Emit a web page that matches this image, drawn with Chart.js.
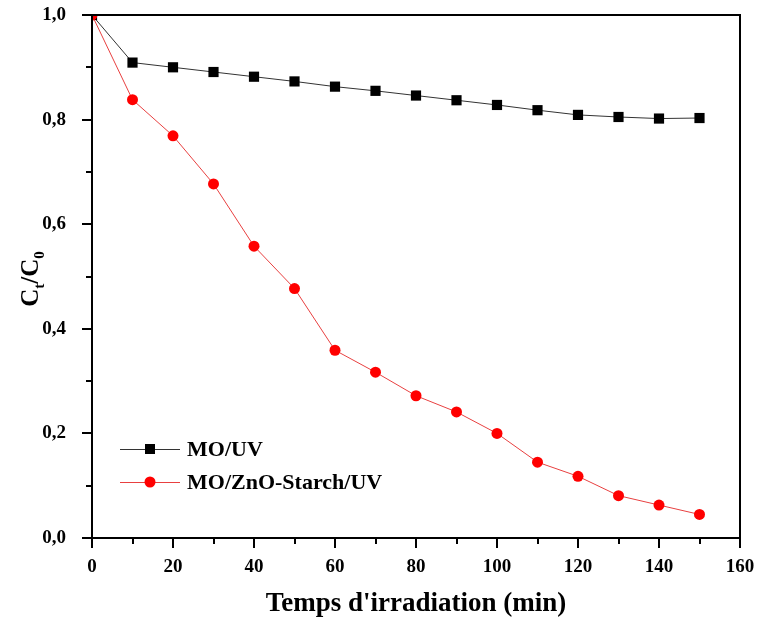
<!DOCTYPE html>
<html>
<head>
<meta charset="utf-8">
<script src="https://cdn.jsdelivr.net/npm/chart.js@4/dist/chart.umd.min.js"></script>
<style>
  html, body { margin: 0; padding: 0; background: #fff; }
  canvas { display: block; }
</style>
</head>
<body>
<canvas id="chart" width="757" height="621"></canvas>
<script>
// ---------- data ----------
const times = [0, 10, 20, 30, 40, 50, 60, 70, 80, 90, 100, 110, 120, 130, 140, 150];

const moUV = [1.0, 0.909, 0.900, 0.891, 0.882, 0.873, 0.863, 0.855, 0.846, 0.837, 0.828, 0.818, 0.809, 0.805, 0.802, 0.803];

const moZnoStarchUV = [1.0, 0.838, 0.769, 0.677, 0.558, 0.477, 0.359, 0.317, 0.272, 0.241, 0.200, 0.145, 0.118, 0.081, 0.063, 0.045];

const seriesNames = ["MO/UV", "MO/ZnO-Starch/UV"];

const xTicks = [0, 20, 40, 60, 80, 100, 120, 140, 160];
const yTicks = [0, 0.2, 0.4, 0.6, 0.8, 1.0];

const xTitle = "Temps d'irradiation (min)";

const FONT = "'Liberation Serif', 'Times New Roman', serif";

// ---------- frame, ticks, titles, legend ----------
const decorPlugin = {
  id: "decor",
  afterDraw(chart) {
    const ctx = chart.ctx;
    const a = chart.chartArea;
    const xs = chart.scales.x;
    const ys = chart.scales.y;

    ctx.save();
    ctx.strokeStyle = "#000";
    ctx.lineWidth = 2;
    ctx.strokeRect(a.left, a.top, a.right - a.left, a.bottom - a.top);

    // x ticks (major every 20, minor every 10)
    for (let v = 0; v <= 160; v += 10) {
      const px = Math.round(xs.getPixelForValue(v));
      const len = v % 20 === 0 ? 10 : 6;
      ctx.beginPath();
      ctx.moveTo(px, a.bottom);
      ctx.lineTo(px, a.bottom + len);
      ctx.stroke();
    }
    // y ticks (major every 0.2, minor every 0.1)
    for (let i = 0; i <= 10; i++) {
      const py = Math.round(ys.getPixelForValue(i / 10));
      const len = i % 2 === 0 ? 10 : 6;
      ctx.beginPath();
      ctx.moveTo(a.left, py);
      ctx.lineTo(a.left - len, py);
      ctx.stroke();
    }

    // x title
    ctx.fillStyle = "#000";
    ctx.font = "bold 27px " + FONT;
    ctx.textAlign = "center";
    ctx.textBaseline = "alphabetic";
    ctx.fillText(xTitle, (a.left + a.right) / 2, 611);

    // y title C_t/C_0
    ctx.save();
    ctx.translate(38, 279);
    ctx.rotate(-Math.PI / 2);
    ctx.textAlign = "left";
    const big = "bold 25px " + FONT;
    const small = "bold 15px " + FONT;
    const parts = [["C", big, 0], ["t", small, 6], ["/C", big, 0], ["0", small, 6]];
    let w = 0;
    parts.forEach(p => { ctx.font = p[1]; w += ctx.measureText(p[0]).width; });
    let x = -w / 2;
    parts.forEach(p => {
      ctx.font = p[1];
      ctx.fillText(p[0], x, p[2]);
      x += ctx.measureText(p[0]).width;
    });
    ctx.restore();

    // legend
    const rows = [
      { y: 449, color: "#000", line: "#333", shape: "rect" },
      { y: 482, color: "#ff0000", line: "#e84040", shape: "circle" }
    ];
    rows.forEach((r, i) => {
      ctx.strokeStyle = r.line;
      ctx.lineWidth = 1;
      ctx.beginPath();
      ctx.moveTo(120, r.y + 0.5);
      ctx.lineTo(180, r.y + 0.5);
      ctx.stroke();
      ctx.fillStyle = r.color;
      if (r.shape === "rect") {
        ctx.fillRect(145, r.y - 5, 10, 10);
      } else {
        ctx.beginPath();
        ctx.arc(150, r.y, 5.5, 0, Math.PI * 2);
        ctx.fill();
      }
      ctx.fillStyle = "#000";
      ctx.font = "bold 22px " + FONT;
      ctx.textAlign = "left";
      ctx.textBaseline = "middle";
      ctx.fillText(seriesNames[i], 187, r.y + 1);
    });
    ctx.restore();
  }
};

new Chart(document.getElementById("chart"), {
  type: "line",
  data: {
    datasets: [
      {
        label: seriesNames[0],
        data: times.map((t, i) => ({ x: t, y: moUV[i] })),
        borderColor: "#333",
        borderWidth: 1,
        pointStyle: "rect",
        pointRadius: 7.2,
        pointBackgroundColor: "#000",
        pointBorderWidth: 0,
        order: 1
      },
      {
        label: seriesNames[1],
        data: times.map((t, i) => ({ x: t, y: moZnoStarchUV[i] })),
        borderColor: "#e84040",
        borderWidth: 1,
        pointStyle: "circle",
        pointRadius: 5.5,
        pointBackgroundColor: "#ff0000",
        pointBorderWidth: 0,
        order: 0
      }
    ]
  },
  options: {
    responsive: false,
    animation: false,
    layout: { padding: { left: 0, right: 17, top: 15, bottom: 0 } },
    plugins: {
      legend: { display: false },
      tooltip: { enabled: false }
    },
    scales: {
      x: {
        type: "linear",
        min: 0,
        max: 160,
        afterFit(scale) {
          scale.height = 83;
          scale.paddingLeft = 0;
          scale.paddingRight = 0;
        },
        afterBuildTicks(scale) { scale.ticks = xTicks.map(v => ({ value: v })); },
        grid: { display: false },
        border: { display: false },
        ticks: {
          color: "#000",
          padding: 10,
          font: { family: FONT, size: 19, weight: "bold" }
        }
      },
      y: {
        type: "linear",
        min: 0,
        max: 1,
        afterFit(scale) {
          scale.width = 92;
          scale.paddingTop = 0;
          scale.paddingBottom = 0;
        },
        afterBuildTicks(scale) { scale.ticks = yTicks.map(v => ({ value: v })); },
        grid: { display: false },
        border: { display: false },
        ticks: {
          color: "#000",
          padding: 18,
          font: { family: FONT, size: 19, weight: "bold" },
          callback: v => v.toFixed(1).replace(".", ",")
        }
      }
    }
  },
  plugins: [decorPlugin]
});
</script>
</body>
</html>
